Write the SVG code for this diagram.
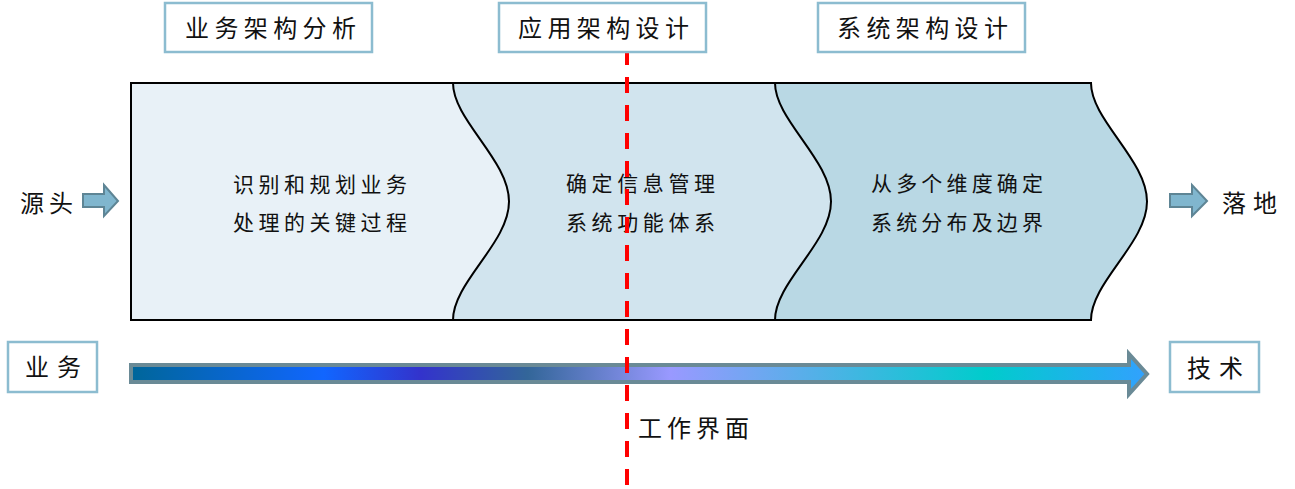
<svg xmlns="http://www.w3.org/2000/svg" width="1295" height="489" viewBox="0 0 1295 489">
<style>
.t{font-family:"Liberation Serif","Noto Sans CJK SC",serif;fill:#111;}
.h{font-size:24px;}
.m{font-size:21px;}
.box{fill:#fff;stroke:#8CBCD0;stroke-width:2.5;}
.sec{stroke:#000;stroke-width:2;}
.small{fill:#80B6CE;stroke:#5E8595;stroke-width:2;}
</style>
<defs>
<linearGradient id="g" gradientUnits="userSpaceOnUse" x1="130" y1="0" x2="1150" y2="0">
<stop offset="0" stop-color="#006699"/>
<stop offset="0.19" stop-color="#1166FF"/>
<stop offset="0.285" stop-color="#3333CC"/>
<stop offset="0.39" stop-color="#336699"/>
<stop offset="0.53" stop-color="#9999FF"/>
<stop offset="0.84" stop-color="#00CCCC"/>
<stop offset="1" stop-color="#33A0FF"/>
</linearGradient>
</defs>
<g id="main">
<path class="sec" fill="#B9D8E4" d="M775,83 L1091,83 C1091,120 1147,160 1147,201.5 C1147,243 1091,282 1091,320 L775,320 Z"/>
<path class="sec" fill="#D1E4EE" d="M453,83 L775,83 C775,120 831,160 831,201.5 C831,243 775,282 775,320 L453,320 Z"/>
<path class="sec" fill="#E8F1F7" d="M131,83 L453,83 C453,120 509,160 509,201.5 C509,243 453,282 453,320 L131,320 Z"/>
</g>
<g id="sec1-text">
<text class="t m" x="233" y="192" textLength="174" lengthAdjust="spacing">识别和规划业务</text>
<text class="t m" x="233" y="230" textLength="174" lengthAdjust="spacing">处理的关键过程</text>
</g>
<g id="sec2-text">
<text class="t m" x="566" y="191" textLength="149" lengthAdjust="spacing">确定信息管理</text>
<text class="t m" x="566" y="230" textLength="149" lengthAdjust="spacing">系统功能体系</text>
</g>
<g id="sec3-text">
<text class="t m" x="871" y="191" textLength="172" lengthAdjust="spacing">从多个维度确定</text>
<text class="t m" x="871" y="230" textLength="172" lengthAdjust="spacing">系统分布及边界</text>
</g>
<g id="connectors">
<path id="flow" fill="url(#g)" stroke="#6A8A96" stroke-width="4" d="M131,365 L1129,365 L1129,354 L1147,374 L1129,394 L1129,382 L131,382 Z"/>
<path id="in-arrow" class="small" d="M83,194 L104,194 L104,185 L118,201 L104,216 L104,207 L83,207 Z"/>
<path id="out-arrow" class="small" d="M1170,194 L1192,194 L1192,185 L1207,201 L1192,216 L1192,207 L1170,207 Z"/>
<line id="interface" x1="627" y1="49" x2="627" y2="489" stroke="#FF0000" stroke-width="4" stroke-dasharray="16 12"/>
</g>
<g id="hdr1">
<rect class="box" x="165" y="3" width="207" height="49"/>
<text class="t h" x="185" y="37" textLength="171" lengthAdjust="spacing">业务架构分析</text>
</g>
<g id="hdr2">
<rect class="box" x="499" y="3" width="207" height="49"/>
<text class="t h" x="518" y="37" textLength="171" lengthAdjust="spacing">应用架构设计</text>
</g>
<g id="hdr3">
<rect class="box" x="818" y="3" width="207" height="49"/>
<text class="t h" x="837" y="37" textLength="171" lengthAdjust="spacing">系统架构设计</text>
</g>
<g id="src">
<text class="t h" x="20" y="212" textLength="53" lengthAdjust="spacing">源头</text>
</g>
<g id="dst">
<text class="t h" x="1222" y="212" textLength="55" lengthAdjust="spacing">落地</text>
</g>
<g id="biz">
<rect class="box" x="8" y="342" width="89" height="50"/>
<text class="t h" x="25" y="376" textLength="56" lengthAdjust="spacing">业务</text>
</g>
<g id="tech">
<rect class="box" x="1170" y="342" width="89" height="50"/>
<text class="t h" x="1187" y="377" textLength="56" lengthAdjust="spacing">技术</text>
</g>
<g id="label">
<text class="t h" x="638" y="437" textLength="111" lengthAdjust="spacing">工作界面</text>
</g>
</svg>
